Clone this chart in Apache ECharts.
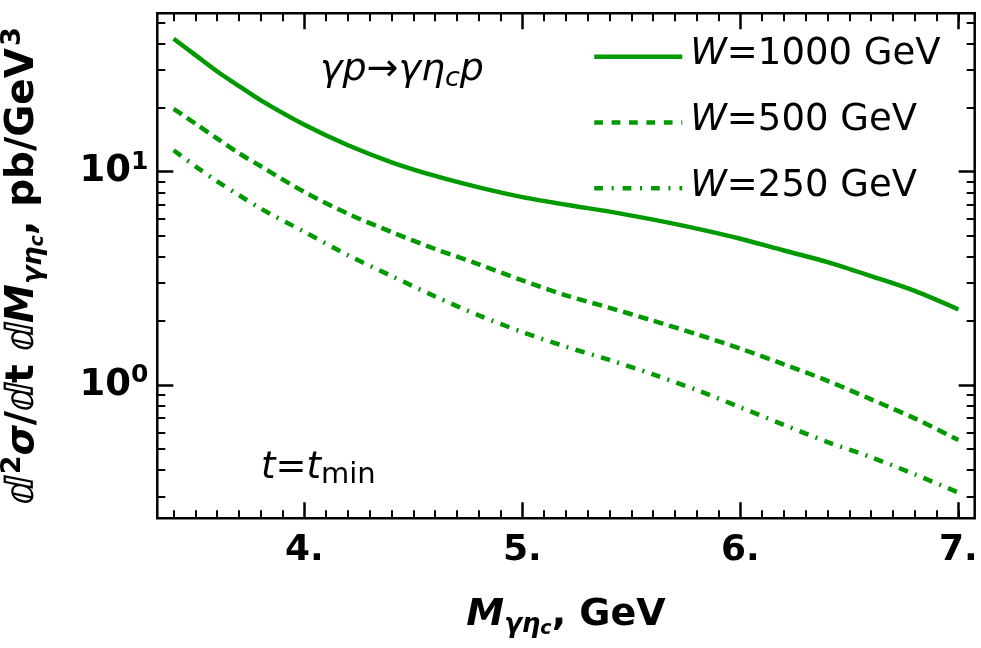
<!DOCTYPE html>
<html><head><meta charset="utf-8">
<script src="https://cdn.jsdelivr.net/npm/echarts@6/dist/echarts.min.js"></script>
<style>html,body{margin:0;padding:0;background:#fff}#c{width:981px;height:648px}</style>
</head><body><div id="c"></div>
<script>
const xValues = [3.4, 3.5, 3.6, 3.7, 3.8, 4.0, 4.2, 4.4, 4.6, 4.8, 5.0, 5.2, 5.4, 5.6, 5.8, 6.0, 6.2, 6.4, 6.6, 6.8, 7.0];
const w1000 = [42.0, 35.2, 29.5, 25.2, 21.6, 16.6, 13.3, 11.07, 9.55, 8.44, 7.6, 7.0, 6.5, 5.96, 5.41, 4.85, 4.27, 3.77, 3.24, 2.76, 2.26];
const w500  = [19.7, 16.8, 14.3, 12.2, 10.6, 8.03, 6.35, 5.21, 4.34, 3.68, 3.09, 2.63, 2.30, 2.0, 1.73, 1.48, 1.25, 1.046, 0.856, 0.697, 0.552];
const w250  = [12.6, 10.6, 9.01, 7.76, 6.71, 5.22, 4.06, 3.24, 2.60, 2.12, 1.77, 1.51, 1.31, 1.12, 0.947, 0.785, 0.650, 0.540, 0.458, 0.381, 0.313];
const seriesNames = ['W=1000 GeV', 'W=500 GeV', 'W=250 GeV'];

const xMajorTicks = [4, 5, 6, 7];
const xMinorTicks = [3.4, 3.5, 3.6, 3.7, 3.8, 3.9, 4.1, 4.2, 4.3, 4.4, 4.5, 4.6, 4.7, 4.8, 4.9,
  5.1, 5.2, 5.3, 5.4, 5.5, 5.6, 5.7, 5.8, 5.9, 6.1, 6.2, 6.3, 6.4, 6.5, 6.6, 6.7, 6.8, 6.9, 7.0];
const yMajorTicks = [1, 10];
const yMinorTicks = [0.3, 0.4, 0.5, 0.6, 0.7, 0.8, 0.9, 2, 3, 4, 5, 6, 7, 8, 9, 20, 30, 40, 50];
const xRange = [3.325, 7.075];
const yRange = [0.237, 55.3];

const FONT = 'DejaVu Sans';
const GREEN = '#009900';

const chart = echarts.init(document.getElementById('c'), null, {renderer: 'canvas'});

function xAxisDef(pos, major, showLabel) {
  const a = {
    type: 'value', position: pos, min: xRange[0], max: xRange[1],
    axisLine: {show: false}, splitLine: {show: false},
    axisTick: {show: true, inside: true, length: major ? 16 : 8,
      customValues: major ? xMajorTicks : xMinorTicks,
      lineStyle: {color: '#000', width: major ? 2.5 : 2}},
    axisLabel: {show: false}
  };
  if (showLabel) {
    a.axisLabel = {show: true, customValues: xMajorTicks, formatter: v => v + '.',
      fontSize: 36, fontWeight: 'bold', color: '#000', fontFamily: FONT, margin: 14};
    a.name = '{M|M}{sb|γη}{ss|c}{n|, GeV}';
    a.nameLocation = 'middle';
    a.nameGap = 74;
    a.nameTextStyle = {fontFamily: FONT, fontSize: 38, fontWeight: 'bold', color: '#000',
      rich: {
        M: {fontFamily: FONT, fontSize: 38, fontWeight: 'bold', fontStyle: 'italic', lineHeight: 46, verticalAlign: 'middle'},
        n: {fontFamily: FONT, fontSize: 38, fontWeight: 'bold', lineHeight: 46, verticalAlign: 'middle'},
        sb: {fontFamily: FONT, fontSize: 26, fontWeight: 'bold', fontStyle: 'italic', lineHeight: 22, verticalAlign: 'bottom'},
        ss: {fontFamily: FONT, fontSize: 19, fontWeight: 'bold', fontStyle: 'italic', lineHeight: 12, verticalAlign: 'bottom'}
      }};
  }
  return a;
}
function yAxisDef(pos, major, showLabel) {
  const a = {
    type: 'log', logBase: 10, position: pos, min: yRange[0], max: yRange[1],
    axisLine: {show: false}, splitLine: {show: false},
    axisTick: {show: true, inside: true, length: major ? 16 : 8,
      customValues: major ? yMajorTicks : yMinorTicks,
      lineStyle: {color: '#000', width: major ? 2.5 : 2}},
    axisLabel: {show: false}
  };
  if (showLabel) {
    a.axisLabel = {show: true, customValues: yMajorTicks, margin: 9,
      formatter: v => '{b|10}{s|' + Math.round(Math.log10(v)) + '}',
      rich: {
        b: {fontFamily: FONT, fontSize: 37, fontWeight: 'bold', color: '#000', lineHeight: 44, verticalAlign: 'middle'},
        s: {fontFamily: FONT, fontSize: 25, fontWeight: 'bold', color: '#000', lineHeight: 26, verticalAlign: 'top'}
      }};
    a.name = '{d|ⅆ}{sp|2}{gi|σ}{d|/ⅆt ⅆ}{gi|M}{sb|γη}{ss|c}{d|, pb/GeV}{sp|3}';
    a.nameLocation = 'middle';
    a.nameGap = 110;
    a.nameTextStyle = {fontFamily: FONT, fontSize: 39, fontWeight: 'bold', color: '#000',
      rich: {
        d: {fontFamily: FONT, fontSize: 39, fontWeight: 'bold', lineHeight: 48, verticalAlign: 'middle'},
        gi: {fontFamily: FONT, fontSize: 39, fontWeight: 'bold', fontStyle: 'italic', lineHeight: 48, verticalAlign: 'middle'},
        sp: {fontFamily: FONT, fontSize: 27, fontWeight: 'bold', lineHeight: 26, verticalAlign: 'top', padding: [0, 0, 0, 2]},
        sb: {fontFamily: FONT, fontSize: 27, fontWeight: 'bold', fontStyle: 'italic', lineHeight: 22, verticalAlign: 'bottom'},
        ss: {fontFamily: FONT, fontSize: 19, fontWeight: 'bold', fontStyle: 'italic', lineHeight: 12, verticalAlign: 'bottom'}
      }};
  }
  return a;
}

const seriesData = [w1000, w500, w250];
const plotDash = ['solid', [10, 6], [9.5, 7.5, 2, 7.5]];
const legendDash = ['solid', [8.7, 8.7], [8.7, 8.7, 2, 9]];

const option = {
  animation: false,
  backgroundColor: '#fff',
  grid: {left: 157.3, right: 6.3, top: 13.3, bottom: 129.7, show: true, borderColor: '#000', borderWidth: 2.5,
    backgroundColor: 'transparent', outerBoundsMode: 'none', containLabel: false},
  xAxis: [xAxisDef('bottom', true, true), xAxisDef('bottom', false, false), xAxisDef('top', true, false), xAxisDef('top', false, false)],
  yAxis: [yAxisDef('left', true, true), yAxisDef('left', false, false), yAxisDef('right', true, false), yAxisDef('right', false, false)],
  legend: {
    left: 592, top: 32.7, orient: 'vertical', padding: 0, itemWidth: 88, itemHeight: 20, itemGap: 17.8,
    selectedMode: false,
    data: seriesNames.map((n, i) => ({name: n,
      lineStyle: {type: legendDash[i], width: 4.5, color: GREEN},
      itemStyle: {opacity: 0, borderWidth: 0, color: 'rgba(0,0,0,0)'}})),
    formatter: name => '{i|W}{n|' + name.slice(1) + '}',
    textStyle: {fontFamily: FONT, fontSize: 37, color: '#000', lineHeight: 44, padding: [0, 0, 4, 3],
      rich: {
        i: {fontFamily: FONT, fontSize: 37, fontStyle: 'italic', color: '#000', lineHeight: 44},
        n: {fontFamily: FONT, fontSize: 37, color: '#000', lineHeight: 44}
      }}
  },
  graphic: [
    {type: 'text', x: 320, y: 70, z: 10, style: {
      text: '{m|γp→γη}{s|c}{m|p}', fill: '#000', verticalAlign: 'middle',
      fontFamily: FONT, fontSize: 38, fontStyle: 'italic',
      rich: {
        m: {fontFamily: FONT, fontSize: 38, fontStyle: 'italic', lineHeight: 44, verticalAlign: 'middle', fill: '#000'},
        s: {fontFamily: FONT, fontSize: 27, fontStyle: 'italic', lineHeight: 24, verticalAlign: 'bottom', fill: '#000'}
      }}},
    {type: 'text', x: 261, y: 468, z: 10, style: {
      text: '{m|t}{e|=}{m|t}{s|min}', fill: '#000', verticalAlign: 'middle',
      fontFamily: FONT, fontSize: 37,
      rich: {
        m: {fontFamily: FONT, fontSize: 37, fontStyle: 'italic', lineHeight: 44, verticalAlign: 'middle', fill: '#000'},
        e: {fontFamily: FONT, fontSize: 37, lineHeight: 44, verticalAlign: 'middle', fill: '#000'},
        s: {fontFamily: FONT, fontSize: 29, lineHeight: 26, verticalAlign: 'bottom', fill: '#000'}
      }}}
  ],
  series: seriesNames.map((n, i) => ({
    name: n, type: 'line', xAxisIndex: 0, yAxisIndex: 0,
    data: xValues.map((x, j) => [x, seriesData[i][j]]),
    symbol: 'none', showSymbol: false, smooth: 0.3,
    lineStyle: {color: GREEN, width: 4.5, type: plotDash[i]},
    itemStyle: {color: GREEN}
  }))
};
chart.setOption(option);
</script>
</body></html>
